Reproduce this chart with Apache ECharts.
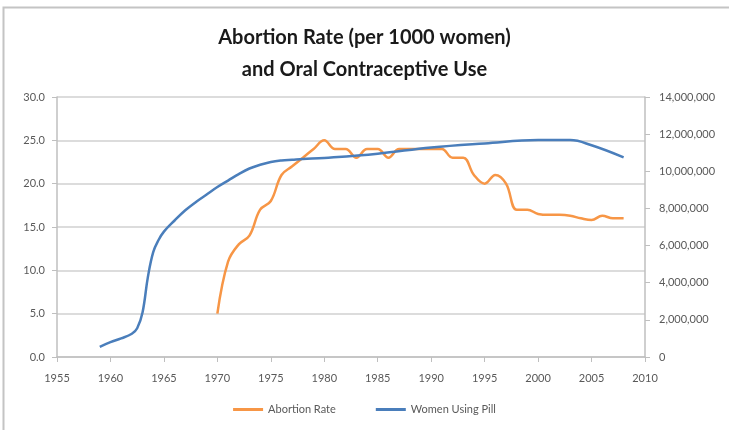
<!DOCTYPE html>
<html>
<head>
  <meta charset="utf-8">
  <title>Abortion Rate and Oral Contraceptive Use</title>
  <script src="https://cdn.jsdelivr.net/npm/echarts@6/dist/echarts.min.js"></script>
  <style>
    html, body { margin: 0; padding: 0; background: #fff; }
    #main { width: 729px; height: 430px; }
  </style>
</head>
<body>

<div id="main"></div>

<script>
  // abortion rate per 1000 women, 1970-2008
  const abortionYears = [
    1970, 1971, 1972, 1973, 1974, 1975, 1976, 1977, 1978, 1979,
    1980, 1981, 1982, 1983, 1984, 1985, 1986, 1987, 1988, 1989,
    1990, 1991, 1992, 1993, 1994, 1995, 1996, 1997, 1998, 1999,
    2000, 2001, 2002, 2003, 2004, 2005, 2006, 2007, 2008
  ];
  const abortionRate = [
    5, 11, 13, 14, 17, 18, 21, 22, 23, 24,
    25, 24, 24, 23, 24, 24, 23, 24, 24, 24,
    24, 24, 23, 23, 21, 20, 21, 20, 17, 17,
    16.5, 16.4, 16.4, 16.3, 16.0, 15.8, 16.3, 16.0, 16.0
  ];

  // women using the pill
  const pillYears = [
    1959, 1960, 1961, 1962, 1962.5, 1963, 1963.5, 1964, 1964.5, 1965,
    1966, 1967, 1968, 1969, 1970, 1971, 1972, 1973, 1974, 1975,
    1976, 1977, 1978, 1980, 1985, 1990, 1995, 2000, 2003, 2005, 2008
  ];
  const pillUsers = [
    550000, 800000, 1000000, 1250000, 1550000, 2400000, 4300000, 5650000, 6300000, 6750000,
    7350000, 7900000, 8350000, 8750000, 9150000, 9500000, 9850000, 10150000, 10350000, 10500000,
    10580000, 10620000, 10660000, 10720000, 10950000, 11280000, 11500000, 11680000, 11680000, 11400000, 10750000
  ];

  const titleLines = ['Abortion Rate (per 1000 women)', 'and Oral Contraceptive Use'];
  const seriesNames = ['Abortion Rate', 'Women Using Pill'];

  const zip = (xs, ys) => xs.map((x, i) => [x, ys[i]]);

  const gray = '#bfbfbf';
  const labelColor = '#595959';
  const font = 'Lato, "Open Sans", sans-serif';

  var myChart = echarts.init(document.getElementById('main'));

  var option = {
    animation: false,
    backgroundColor: '#fff',
    textStyle: { fontFamily: font },
    title: {
      text: titleLines.join('\n'),
      left: 'center',
      top: 17,
      textStyle: {
        fontFamily: font,
        fontSize: 20,
        fontWeight: 'bold',
        color: '#1a1a1a',
        lineHeight: 32
      }
    },
    legend: {
      bottom: 10,
      left: 'center',
      itemWidth: 30,
      itemHeight: 3,
      itemGap: 40,
      icon: 'rect',
      textStyle: { fontFamily: font, fontSize: 11, color: labelColor },
      data: seriesNames
    },
    grid: {
      left: 57,
      right: 84,
      top: 97,
      bottom: 73,
      containLabel: false
    },
    xAxis: {
      type: 'value',
      min: 1955,
      max: 2010,
      interval: 5,
      axisLine: { show: true, lineStyle: { color: gray, width: 1.5 } },
      axisTick: { show: true, length: 5, lineStyle: { color: gray } },
      splitLine: { show: false },
      axisLabel: {
        margin: 16,
        fontSize: 11,
        color: labelColor,
        formatter: v => String(v)
      }
    },
    yAxis: [
      {
        type: 'value',
        min: 0,
        max: 30,
        interval: 5,
        position: 'left',
        axisLine: { show: true, lineStyle: { color: gray, width: 1.5 } },
        axisTick: { show: true, length: 5, lineStyle: { color: gray } },
        splitLine: { show: true, lineStyle: { color: '#d0d0d0', width: 1.5 } },
        axisLabel: {
          margin: 12,
          fontSize: 11,
          color: labelColor,
          formatter: v => v.toFixed(1)
        }
      },
      {
        type: 'value',
        min: 0,
        max: 14000000,
        interval: 2000000,
        position: 'right',
        axisLine: { show: true, lineStyle: { color: gray, width: 1.5 } },
        axisTick: { show: true, length: 5, lineStyle: { color: gray } },
        splitLine: { show: false },
        axisLabel: {
          margin: 14,
          fontSize: 11,
          color: labelColor
        }
      }
    ],
    graphic: [
      {
        type: 'polyline',
        silent: true,
        shape: { points: [[3.5, 430], [3.5, 7.5], [729, 7.5]] },
        style: { stroke: '#c4c4c4', lineWidth: 2, fill: null }
      }
    ],
    series: [
      {
        name: seriesNames[0],
        type: 'line',
        yAxisIndex: 0,
        data: zip(abortionYears, abortionRate),
        smooth: 0.4,
        showSymbol: false,
        symbol: 'none',
        color: '#f79646',
        lineStyle: { color: '#f79646', width: 2.5 }
      },
      {
        name: seriesNames[1],
        type: 'line',
        yAxisIndex: 1,
        data: zip(pillYears, pillUsers),
        smooth: 0.4,
        showSymbol: false,
        symbol: 'none',
        color: '#4a7ebb',
        lineStyle: { color: '#4a7ebb', width: 2.5 }
      }
    ]
  };

  myChart.setOption(option);
</script>
</body>
</html>
